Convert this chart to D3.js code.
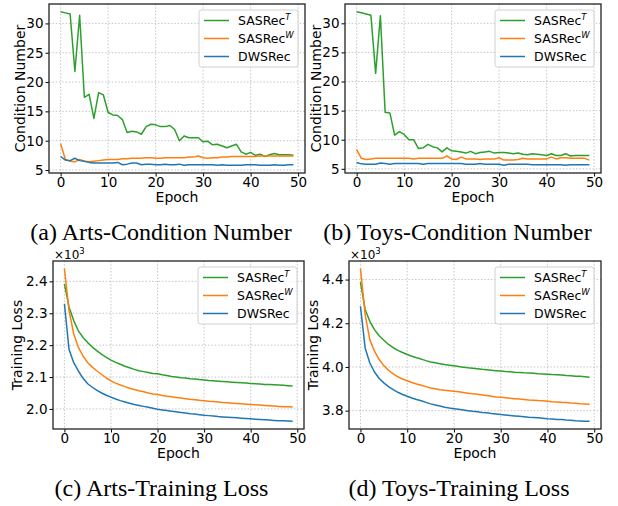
<!DOCTYPE html>
<html>
<head>
<meta charset="utf-8">
<script src="https://cdn.jsdelivr.net/npm/d3@7"></script>
<style>
  body { margin: 0; background: #fff; }
  svg { display: block; background: #fff; }
  text { font-family: "DejaVu Sans", sans-serif; fill: #000; }
  .caption { font-family: "Liberation Serif", "Times New Roman", serif; font-size: 24px; }
</style>
</head>
<body>
<svg id="chart" width="618" height="506"></svg>
<script>
// epochs 0..49 on the x axis
const epochs = d3.range(50);
const xTicks = [0, 10, 20, 30, 40, 50];

const seriesNames = ["SASRec", "SASRec", "DWSRec"];
const seriesSup = ["T", "W", ""];
const seriesColors = ["#2ca02c", "#ff7f0e", "#1f77b4"];

// (a) Arts - condition number
const artsCondT = [32.0,31.8,31.6,21.8,31.4,17.4,17.9,13.8,18.2,17.8,14.8,14.4,14.3,13.6,11.4,11.6,11.5,11.1,12.4,12.8,
  12.7,12.4,12.4,12.6,11.9,10.0,10.8,10.5,10.5,10.5,9.8,9.9,9.3,9.4,9.1,8.8,9.1,9.4,8.1,7.7,
  8.0,7.5,7.7,7.3,7.6,7.8,7.6,7.6,7.6,7.5];
const artsCondW = [9.5,6.8,6.5,6.4,6.8,6.5,6.4,6.5,6.6,6.7,6.8,6.8,6.8,6.9,6.9,7.0,7.0,7.0,7.1,7.1,
  7.0,7.0,7.1,7.1,7.1,7.1,7.1,7.2,7.2,7.4,7.1,7.0,7.1,7.1,7.2,7.2,7.3,7.3,7.3,7.3,
  7.3,7.3,7.4,7.4,7.4,7.4,7.4,7.4,7.4,7.4];
const artsCondDWS = [7.3,6.7,6.6,7.0,6.6,6.5,6.3,6.2,6.2,6.2,6.2,6.2,6.3,5.9,6.0,6.2,6.2,5.9,6.0,6.0,
  5.9,5.9,6.0,5.9,5.9,6.0,5.8,5.9,5.9,5.9,5.9,5.9,5.9,5.8,5.9,5.8,5.8,5.8,5.8,5.9,
  5.9,5.9,5.8,5.8,5.8,5.9,5.8,5.8,5.9,5.9];

// (b) Toys - condition number
const toysCondT = [32.0,31.8,31.6,31.4,21.4,31.3,14.7,14.6,10.8,11.4,10.9,10.0,10.0,8.5,8.6,9.2,8.8,8.6,7.9,8.6,
  8.1,8.0,7.9,7.7,8.0,7.6,7.8,7.9,8.0,7.7,7.8,7.8,7.7,7.6,7.7,7.5,7.4,7.6,7.5,7.4,
  7.3,7.6,7.3,7.3,7.6,7.2,7.3,7.3,7.3,7.3];
const toysCondW = [8.3,6.8,6.6,6.7,6.8,6.8,6.8,6.8,6.8,6.8,6.8,6.8,6.7,6.8,6.8,6.8,6.8,6.8,6.8,7.2,
  6.7,6.6,7.0,6.7,6.7,6.7,6.6,6.7,6.7,6.7,6.9,6.5,6.5,6.5,6.6,6.8,6.7,6.7,6.7,6.7,
  6.7,7.0,6.7,6.9,6.9,6.8,6.8,6.8,6.8,6.5];
const toysCondDWS = [6.1,5.85,5.8,5.8,5.8,6.0,5.9,5.8,5.9,5.9,5.9,5.9,5.9,5.9,5.8,5.9,5.9,5.9,5.9,5.9,
  5.9,5.9,5.9,5.8,5.8,5.8,5.9,5.8,5.8,5.8,5.8,5.6,5.8,5.8,5.8,5.8,5.8,5.7,5.7,5.7,
  5.7,5.7,5.7,5.7,5.6,5.7,5.7,5.7,5.7,5.7];

// (c) Arts - training loss
const artsLossT = [2392,2319,2277,2245,2224,2208,2194,2182,2171,2162,2153,2146,2140,2134,2129,2124,2120,2117,2114,2111,
  2110,2107,2105,2102,2100,2098,2097,2095,2094,2092,2091,2089,2088,2087,2086,2085,2084,2083,2082,2081,
  2080,2079,2078,2077,2077,2076,2075,2074,2073,2072];
const artsLossW = [2440,2308,2235,2193,2166,2145,2131,2119,2108,2097,2088,2081,2075,2070,2065,2061,2057,2054,2050,2047,
  2045,2042,2040,2038,2036,2034,2032,2030,2029,2027,2026,2024,2023,2022,2020,2019,2018,2017,2016,2015,
  2014,2013,2012,2011,2010,2009,2008,2007,2007,2006];
const artsLossDWS = [2330,2186,2145,2119,2096,2079,2068,2058,2050,2043,2037,2031,2026,2022,2018,2014,2011,2008,2005,2002,
  1999,1997,1995,1993,1991,1989,1987,1985,1984,1982,1980,1979,1978,1976,1975,1974,1973,1972,1971,1970,
  1969,1968,1967,1966,1965,1964,1963,1963,1962,1961];

// (d) Toys - training loss
const toysLossT = [4388,4263,4209,4171,4143,4122,4103,4088,4076,4066,4057,4049,4042,4036,4029,4023,4019,4015,4011,4008,
  4005,4002,3999,3996,3994,3992,3989,3987,3985,3983,3981,3979,3978,3976,3975,3973,3972,3971,3969,3968,
  3967,3965,3964,3963,3961,3960,3958,3957,3955,3953];
const toysLossW = [4450,4240,4125,4072,4034,4006,3985,3968,3955,3945,3937,3929,3922,3916,3910,3904,3900,3896,3893,3891,
  3889,3886,3883,3880,3877,3875,3872,3869,3866,3863,3861,3859,3857,3855,3853,3851,3849,3848,3846,3845,
  3843,3841,3840,3838,3837,3835,3834,3832,3831,3829];
const toysLossDWS = [4278,4087,4018,3977,3947,3927,3910,3896,3884,3874,3866,3858,3851,3845,3838,3831,3826,3821,3816,3812,
  3809,3806,3803,3800,3797,3795,3792,3790,3787,3785,3782,3780,3778,3776,3774,3772,3770,3769,3767,3765,
  3763,3762,3760,3759,3757,3756,3754,3753,3752,3751];

const condTicks = [5, 10, 15, 20, 25, 30];
const artsLossTicks = [2000, 2100, 2200, 2300, 2400];
const toysLossTicks = [3800, 4000, 4200, 4400];

const captions = ["(a) Arts-Condition Number", "(b) Toys-Condition Number",
                  "(c) Arts-Training Loss", "(d) Toys-Training Loss"];

const svg = d3.select("#chart");

function padded(lo, hi) {
    const p = (hi - lo) * 0.05;
    return [lo - p, hi + p];
}

function drawPanel(p) {
    const g = svg.append("g");
    const x = d3.scaleLinear().domain(padded(0, epochs.length - 1)).range([p.left, p.right]);
    const all = p.series.flat();
    const y = d3.scaleLinear().domain(padded(d3.min(all), d3.max(all))).range([p.bottom, p.top]);

    // grid
    g.append("g").selectAll("line").data(xTicks).join("line")
        .attr("x1", d => x(d)).attr("x2", d => x(d))
        .attr("y1", p.top).attr("y2", p.bottom)
        .attr("stroke", "#b8b8b8").attr("stroke-width", 0.8).attr("stroke-dasharray", "1.5,1.8");
    g.append("g").selectAll("line").data(p.yTicks).join("line")
        .attr("x1", p.left).attr("x2", p.right)
        .attr("y1", d => y(d)).attr("y2", d => y(d))
        .attr("stroke", "#b8b8b8").attr("stroke-width", 0.8).attr("stroke-dasharray", "1.5,1.8");

    // lines
    const line = d3.line().x((d, i) => x(epochs[i])).y(d => y(d));
    p.series.forEach((s, k) => {
        g.append("path").datum(s)
            .attr("d", line)
            .attr("fill", "none")
            .attr("stroke", seriesColors[k])
            .attr("stroke-width", 1.5)
            .attr("stroke-linejoin", "round");
    });

    // axes
    const xAxis = g.append("g").attr("transform", `translate(0,${p.bottom})`)
        .call(d3.axisBottom(x).tickValues(xTicks).tickSize(3.5).tickPadding(1));
    const yAxis = g.append("g").attr("transform", `translate(${p.left},0)`)
        .call(d3.axisLeft(y).tickValues(p.yTicks).tickFormat(p.yFmt).tickSize(3.5).tickPadding(2));
    [xAxis, yAxis].forEach(a => {
        a.select(".domain").remove();
        a.selectAll("text").style("font-family", "DejaVu Sans").style("font-size", "13.5px").attr("fill", "#000");
        a.selectAll("line").attr("stroke", "#000").attr("stroke-width", 1);
    });

    // frame
    g.append("rect")
        .attr("x", p.left).attr("y", p.top)
        .attr("width", p.right - p.left).attr("height", p.bottom - p.top)
        .attr("fill", "none").attr("stroke", "#222").attr("stroke-width", 1.3);

    // axis titles
    g.append("text")
        .attr("x", (p.left + p.right) / 2).attr("y", p.bottom + 29)
        .attr("text-anchor", "middle").style("font-size", "14px")
        .text("Epoch");
    g.append("text")
        .attr("transform", `translate(${p.left + p.labelDx},${(p.top + p.bottom) / 2}) rotate(-90)`)
        .attr("text-anchor", "middle").style("font-size", "14px")
        .text(p.yLabel);

    if (p.offset) {
        const t = g.append("text").attr("x", p.left + 1).attr("y", p.top - 2).style("font-size", "12px");
        t.append("tspan").text("×10");
        t.append("tspan").attr("dy", -5).style("font-size", "8.5px").text("3");
    }

    // legend
    const lw = 99, lh = 57;
    const lx = p.right - 7 - lw, ly = p.top + 6;
    const leg = g.append("g").attr("transform", `translate(${lx},${ly})`);
    leg.append("rect").attr("width", lw).attr("height", lh).attr("rx", 2.5)
        .attr("fill", "#fff").attr("fill-opacity", 0.8)
        .attr("stroke", "#d0d0d0").attr("stroke-width", 1);
    seriesNames.forEach((name, k) => {
        const cy = 10.5 + k * 18;
        leg.append("line").attr("x1", 5).attr("x2", 30).attr("y1", cy).attr("y2", cy)
            .attr("stroke", seriesColors[k]).attr("stroke-width", 1.5);
        const t = leg.append("text").attr("x", 39).attr("y", cy + 4.5).style("font-size", "12.5px");
        t.append("tspan").text(name);
        if (seriesSup[k]) {
            t.append("tspan").attr("dy", -5.5).style("font-size", "8.5px").style("font-style", "italic")
                .text(seriesSup[k]);
        }
    });
}

const condFmt = d3.format("d");
const lossFmt = d => (d / 1000).toFixed(1);

drawPanel({ left: 49, right: 305, top: 4, bottom: 173, labelDx: -24,
    series: [artsCondT, artsCondW, artsCondDWS], yTicks: condTicks, yFmt: condFmt, yLabel: "Condition Number" });
drawPanel({ left: 345, right: 601, top: 4, bottom: 173, labelDx: -24,
    series: [toysCondT, toysCondW, toysCondDWS], yTicks: condTicks, yFmt: condFmt, yLabel: "Condition Number" });
drawPanel({ left: 53, right: 304, top: 261, bottom: 429, labelDx: -31, offset: true,
    series: [artsLossT, artsLossW, artsLossDWS], yTicks: artsLossTicks, yFmt: lossFmt, yLabel: "Training Loss" });
drawPanel({ left: 349, right: 601, top: 261, bottom: 429, labelDx: -31, offset: true,
    series: [toysLossT, toysLossW, toysLossDWS], yTicks: toysLossTicks, yFmt: lossFmt, yLabel: "Training Loss" });

// captions
const capPos = [[161, 240], [457.5, 240], [161.5, 496], [459, 496]];
captions.forEach((c, i) => {
    svg.append("text").attr("class", "caption")
        .attr("x", capPos[i][0]).attr("y", capPos[i][1])
        .attr("text-anchor", "middle").text(c);
});
</script>
</body>
</html>
